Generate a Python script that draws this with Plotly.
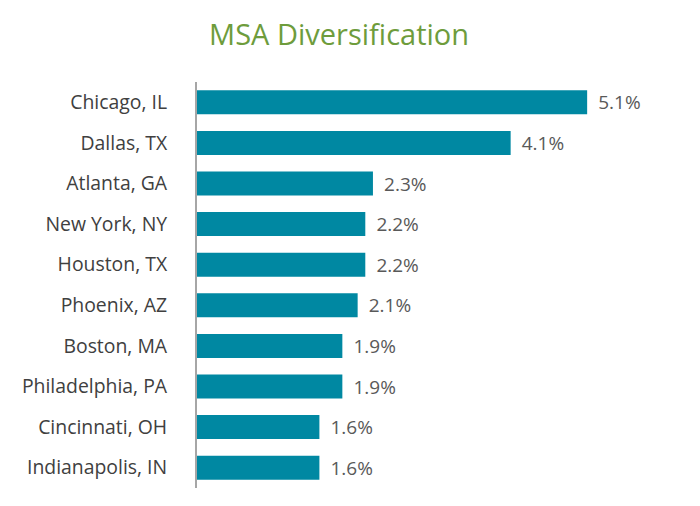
import plotly.graph_objects as go

categories = ["Chicago, IL", "Dallas, TX", "Atlanta, GA", "New York, NY", "Houston, TX",
              "Phoenix, AZ", "Boston, MA", "Philadelphia, PA", "Cincinnati, OH", "Indianapolis, IN"]
values = [5.1, 4.1, 2.3, 2.2, 2.2, 2.1, 1.9, 1.9, 1.6, 1.6]
labels = ["\u00a0\u2009" + f"{v:.1f}%" for v in values]

fig = go.Figure(go.Bar(
    x=values, y=categories, orientation="h",
    marker=dict(color="#0088A2", line=dict(width=0)),
    text=labels, textposition="outside", cliponaxis=False, constraintext="none",
    textfont=dict(family="Open Sans", size=19, color="#595959"),
))

fig.update_layout(
    width=700, height=506,
    margin=dict(l=189, r=52, t=74, b=26, autoexpand=False),
    paper_bgcolor="white", plot_bgcolor="white",
    title=dict(text="MSA Diversification", x=0.473, xanchor="center", y=0.947, yanchor="middle",
               font=dict(family="Open Sans", size=29, color="#6E9C3C")),
    bargap=0.41,
    showlegend=False,
    font=dict(family="Open Sans"),
)
fig.update_xaxes(range=[0, 6], visible=False)
fig.update_yaxes(autorange="reversed", showline=True, linecolor="#A6A6A6", linewidth=2,
                 showgrid=False, ticks="", ticklabelstandoff=24,
                 tickfont=dict(family="Open Sans", size=19.4, color="#404040"))

fig.write_html("out.html")
